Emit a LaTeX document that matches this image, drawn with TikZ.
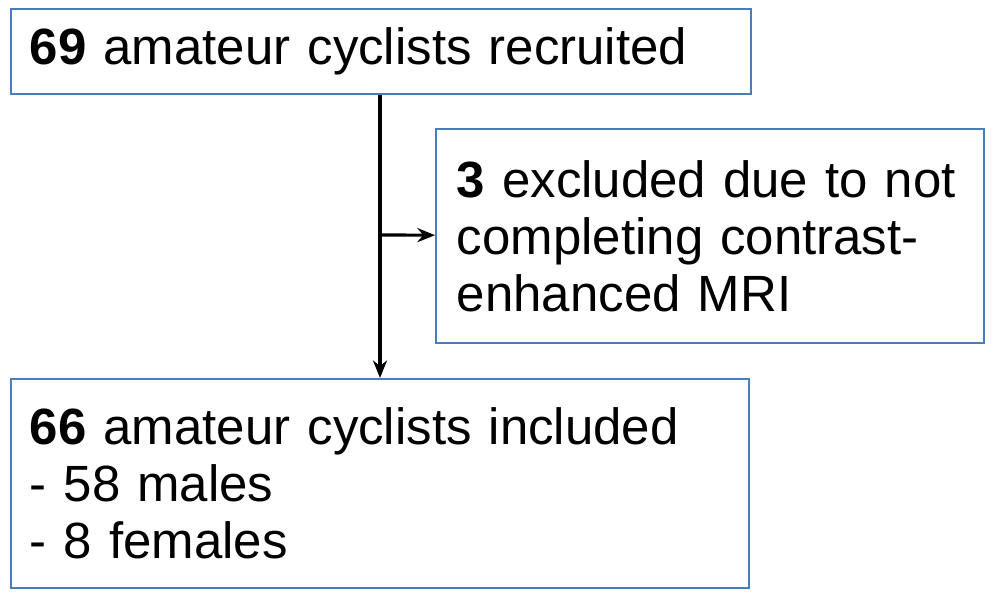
\documentclass[tikz,border=0pt]{standalone}
\usepackage{fontspec}
\setmainfont{Liberation Sans}
\usetikzlibrary{arrows.meta}
\begin{document}
\begin{tikzpicture}[
  box/.style={draw=boxblue, line width=1.1pt, anchor=north west, align=left,
    inner xsep=0.38cm, font=\fontsize{29}{32.5}\selectfont},
  arrow/.style={line width=1.8pt, -{Stealth[length=10pt,width=8pt]}}]
\definecolor{boxblue}{HTML}{4A7EBB}
\useasboundingbox (0,0) rectangle (19.86,-11.98);

\node [box, text width=14.04cm, minimum height=1.7cm] (recruited) at (0.2,-0.16)
  {\textbf{69} amateur cyclists recruited};
\node [box, inner xsep=0.42cm, text width=10.12cm, minimum height=4.28cm] (excluded) at (8.7,-2.56)
  {\textbf{3} excluded due to not\\completing contrast-\\enhanced MRI};
\node [box, text width=14.0cm, minimum height=4.18cm] (included) at (0.2,-7.56)
  {\textbf{66} amateur cyclists included\\- 58 males\\- 8 females};

\coordinate (split) at (7.6,-4.70);
\draw [arrow] (recruited.south -| split) -- (split |- included.north);
\draw [arrow] (split) -- (excluded);
\end{tikzpicture}
\end{document}
